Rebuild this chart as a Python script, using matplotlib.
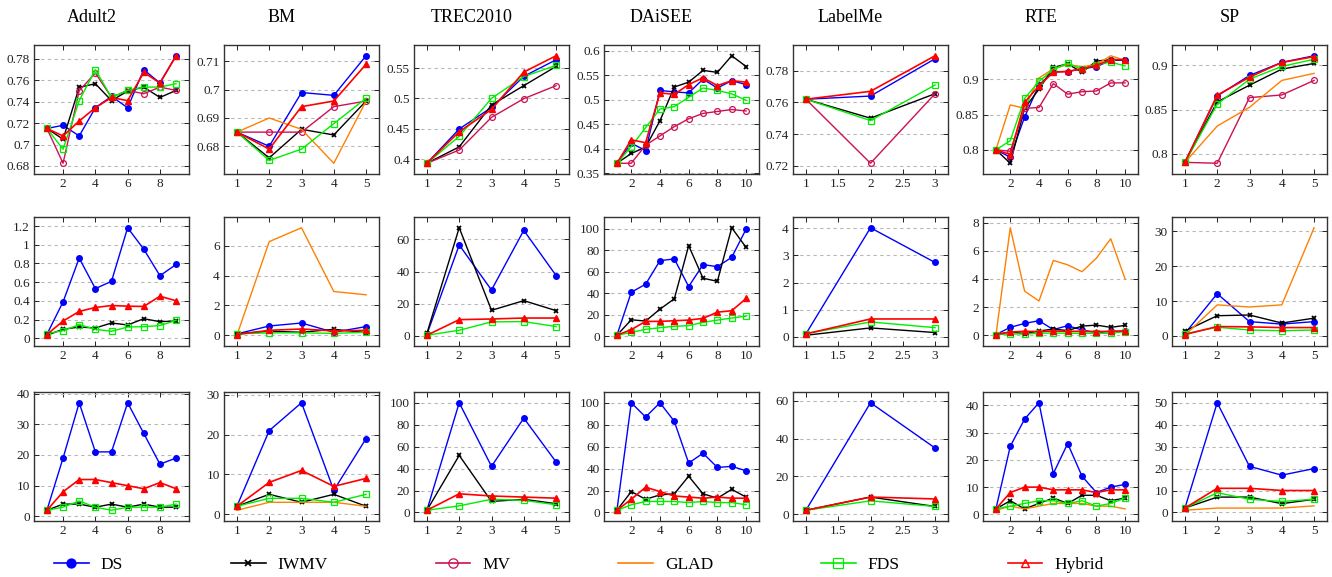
import matplotlib
matplotlib.use("Agg")
import matplotlib.pyplot as plt
from matplotlib.lines import Line2D
from matplotlib.ticker import MultipleLocator, FormatStrFormatter

plt.rcParams['font.family'] = ['Liberation Serif', 'DejaVu Serif']

datasets = ["Adult2", "BM", "TREC2010", "DAiSEE", "LabelMe", "RTE", "SP"]
methods = ["DS", "IWMV", "MV", "GLAD", "FDS", "Hybrid"]

# ---- row 1: accuracy ----
adult2_acc = {
    "DS":     [0.715, 0.718, 0.708, 0.7344, 0.745, 0.7344, 0.770, 0.7575, 0.783],
    "IWMV":   [0.715, 0.705, 0.7534, 0.7569, 0.741, 0.750, 0.7537, 0.744, 0.7506],
    "MV":     [0.715, 0.6825, 0.7503, 0.7669, 0.744, 0.7506, 0.7475, 0.7537, 0.7506],
    "FDS":    [0.715, 0.6956, 0.741, 0.770, 0.744, 0.7506, 0.7537, 0.7537, 0.7569],
    "Hybrid": [0.715, 0.708, 0.722, 0.7344, 0.744, 0.741, 0.7675, 0.7575, 0.783],
}
bm_acc = {
    "DS":     [0.685, 0.680, 0.699, 0.698, 0.712],
    "IWMV":   [0.685, 0.6759, 0.686, 0.684, 0.696],
    "MV":     [0.685, 0.685, 0.685, 0.694, 0.696],
    "GLAD":   [0.685, 0.690, 0.686, 0.674, 0.696],
    "FDS":    [0.685, 0.675, 0.679, 0.688, 0.697],
    "Hybrid": [0.685, 0.679, 0.694, 0.696, 0.709],
}
trec_acc = {
    "DS":     [0.393, 0.4495, 0.485, 0.5363, 0.5637],
    "IWMV":   [0.393, 0.420, 0.489, 0.521, 0.5527],
    "MV":     [0.393, 0.4148, 0.4687, 0.4995, 0.521],
    "FDS":    [0.393, 0.4374, 0.500, 0.536, 0.5544],
    "Hybrid": [0.393, 0.445, 0.4818, 0.5434, 0.5703],
}
daisee_acc = {
    "DS":     [0.37, 0.411, 0.396, 0.519, 0.516, 0.514, 0.542, 0.524, 0.539, 0.531],
    "IWMV":   [0.37, 0.390, 0.403, 0.457, 0.526, 0.536, 0.560, 0.556, 0.590, 0.568],
    "MV":     [0.37, 0.37, 0.407, 0.426, 0.445, 0.461, 0.472, 0.476, 0.480, 0.477],
    "FDS":    [0.37, 0.404, 0.443, 0.481, 0.486, 0.505, 0.524, 0.519, 0.512, 0.499],
    "Hybrid": [0.37, 0.418, 0.412, 0.514, 0.511, 0.531, 0.545, 0.529, 0.539, 0.536],
}
labelme_acc = {
    "DS":     [0.762, 0.764, 0.7876],
    "IWMV":   [0.762, 0.750, 0.7655],
    "MV":     [0.762, 0.7215, 0.7655],
    "FDS":    [0.762, 0.7485, 0.771],
    "Hybrid": [0.762, 0.767, 0.7895],
}
rte_acc = {
    "DS":     [0.80, 0.7896, 0.8467, 0.892, 0.911, 0.911, 0.915, 0.918, 0.927, 0.927],
    "IWMV":   [0.80, 0.781, 0.859, 0.886, 0.917, 0.922, 0.910, 0.926, 0.928, 0.928],
    "MV":     [0.80, 0.798, 0.859, 0.860, 0.894, 0.879, 0.8825, 0.8835, 0.895, 0.895],
    "GLAD":   [0.80, 0.8637, 0.859, 0.902, 0.915, 0.921, 0.918, 0.921, 0.9335, 0.927],
    "FDS":    [0.80, 0.813, 0.873, 0.897, 0.914, 0.923, 0.914, 0.921, 0.9245, 0.919],
    "Hybrid": [0.80, 0.7934, 0.8675, 0.891, 0.910, 0.9113, 0.915, 0.920, 0.928, 0.928],
}
sp_acc = {
    "DS":     [0.79, 0.8654, 0.8886, 0.9034, 0.911],
    "IWMV":   [0.79, 0.8586, 0.8776, 0.8958, 0.9023],
    "MV":     [0.79, 0.789, 0.8635, 0.8665, 0.883],
    "GLAD":   [0.79, 0.8312, 0.8525, 0.883, 0.891],
    "FDS":    [0.79, 0.856, 0.8844, 0.8989, 0.907],
    "Hybrid": [0.79, 0.8662, 0.8867, 0.9034, 0.910],
}

# ---- row 2 ----
adult2_time = {
    "DS":     [0.042, 0.389, 0.857, 0.531, 0.609, 1.182, 0.952, 0.669, 0.789],
    "IWMV":   [0.032, 0.096, 0.12, 0.11, 0.163, 0.142, 0.209, 0.177, 0.184],
    "FDS":    [0.05, 0.081, 0.145, 0.096, 0.074, 0.12, 0.124, 0.135, 0.191],
    "Hybrid": [0.04, 0.184, 0.287, 0.329, 0.35, 0.343, 0.34, 0.45, 0.40],
}
bm_time = {
    "DS":     [0.09, 0.62, 0.82, 0.2, 0.58],
    "IWMV":   [0.1, 0.27, 0.2, 0.4, 0.18],
    "GLAD":   [0.0, 6.27, 7.2, 2.93, 2.71],
    "FDS":    [0.1, 0.16, 0.16, 0.13, 0.2],
    "Hybrid": [0.05, 0.33, 0.42, 0.29, 0.33],
}
trec_time = {
    "DS":     [1.0, 56.5, 28.5, 65.6, 37.5],
    "IWMV":   [1.6, 67.2, 15.9, 21.9, 15.7],
    "FDS":    [0.4, 3.5, 8.7, 8.9, 5.8],
    "Hybrid": [0.4, 10.1, 10.5, 11.1, 11.1],
}
daisee_time = {
    "DS":     [1, 41, 48.5, 70.4, 72, 46.3, 66.7, 64.8, 73.5, 99.7],
    "IWMV":   [1, 15.4, 14.2, 25.3, 34.9, 84.3, 54, 51.2, 101, 82.7],
    "FDS":    [1, 3.7, 6.5, 8, 9.3, 9.9, 13, 15.1, 17, 18.8],
    "Hybrid": [1, 6.2, 13.9, 13.9, 14.5, 15.1, 16.7, 22.5, 23.8, 35.2],
}
labelme_time = {
    "DS":     [0.11, 4.02, 2.74],
    "IWMV":   [0.06, 0.33, 0.16],
    "FDS":    [0.12, 0.55, 0.34],
    "Hybrid": [0.11, 0.66, 0.66],
}
rte_time = {
    "DS":     [0.05, 0.56, 0.84, 1.03, 0.4, 0.68, 0.37, 0.19, 0.28, 0.28],
    "IWMV":   [0.05, 0.23, 0.12, 0.3, 0.44, 0.33, 0.65, 0.72, 0.56, 0.7],
    "GLAD":   [0.0, 7.63, 3.13, 2.43, 5.31, 5.0, 4.51, 5.47, 6.85, 4.0],
    "FDS":    [0.05, 0.09, 0.09, 0.14, 0.16, 0.14, 0.14, 0.14, 0.14, 0.26],
    "Hybrid": [0.05, 0.23, 0.28, 0.26, 0.3, 0.28, 0.28, 0.26, 0.28, 0.3],
}
sp_time = {
    "DS":     [0.7, 12.1, 4.1, 3.4, 4.1],
    "IWMV":   [1.4, 5.8, 6.0, 3.7, 5.1],
    "GLAD":   [0.2, 8.9, 8.3, 8.9, 31.0],
    "FDS":    [0.6, 2.5, 1.7, 1.5, 1.7],
    "Hybrid": [0.4, 2.7, 2.6, 2.4, 2.4],
}

# ---- row 3 ----
adult2_iter = {
    "DS":     [2, 19, 37, 21, 21, 37, 27, 17, 19],
    "IWMV":   [2, 4, 4, 3, 4, 3, 4, 3, 3],
    "FDS":    [2, 3, 5, 3, 2, 3, 3, 3, 4],
    "Hybrid": [2, 8, 12, 12, 11, 10, 9, 11, 9],
}
bm_iter = {
    "DS":     [2, 21, 28, 6, 19],
    "IWMV":   [2, 5, 3, 5, 2],
    "GLAD":   [1, 3, 3, 3, 2],
    "FDS":    [2, 4, 4, 3, 5],
    "Hybrid": [2, 8, 11, 7, 9],
}
trec_iter = {
    "DS":     [2, 100, 42, 86, 46],
    "IWMV":   [2, 52, 10, 12, 8],
    "FDS":    [2, 6, 12, 11, 7],
    "Hybrid": [2, 17, 15, 14, 13],
}
daisee_iter = {
    "DS":     [2, 100, 87, 100, 83, 45, 54, 41, 42, 38],
    "IWMV":   [2, 19, 12, 16, 17, 33, 17, 13, 21, 14],
    "FDS":    [2, 7, 10, 10, 10, 9, 10, 9, 9, 7],
    "Hybrid": [2, 12, 23, 19, 15, 14, 13, 14, 13, 13],
}
labelme_iter = {
    "DS":     [2, 59, 35],
    "IWMV":   [2, 9, 4],
    "FDS":    [2, 7, 4],
    "Hybrid": [2, 9, 8],
}
rte_iter = {
    "DS":     [2, 25, 35, 41, 15, 26, 14, 8, 10, 11],
    "IWMV":   [2, 5, 2, 4, 6, 4, 7, 7, 5, 6],
    "GLAD":   [1.5, 3, 2, 3, 4, 4, 4, 3, 3, 2],
    "FDS":    [2, 3, 4, 5, 5, 4, 5, 3, 4, 6],
    "Hybrid": [2, 8, 10, 10, 9, 9, 9, 8, 9, 9],
}
sp_iter = {
    "DS":     [2, 50, 21, 17, 20],
    "IWMV":   [2, 7, 7, 4, 6],
    "GLAD":   [1, 2, 2, 2, 3],
    "FDS":    [2, 9, 6, 5, 6],
    "Hybrid": [2, 11, 11, 10, 10],
}

rows = [
    [adult2_acc, bm_acc, trec_acc, daisee_acc, labelme_acc, rte_acc, sp_acc],
    [adult2_time, bm_time, trec_time, daisee_time, labelme_time, rte_time, sp_time],
    [adult2_iter, bm_iter, trec_iter, daisee_iter, labelme_iter, rte_iter, sp_iter],
]
ysteps = [
    [0.02, 0.01, 0.05, 0.05, 0.02, 0.05, 0.05],
    [0.2, 2, 20, 20, 1, 2, 10],
    [10, 10, 20, 20, 20, 10, 10],
]
xsteps = [2, 1, 1, 2, 0.5, 2, 1]

styles = {
    "DS":     dict(color='#0000ff', marker='o', ms=4, mfc='#0000ff', mec='#0000ff'),
    "IWMV":   dict(color='black', marker='x', ms=2.6, mew=1.3),
    "MV":     dict(color='#cc1155', marker='o', ms=4.2, mfc='none', mew=0.9),
    "GLAD":   dict(color='#ff8000'),
    "FDS":    dict(color='#00ee00', marker='s', ms=4.2, mfc='none', mew=0.9),
    "Hybrid": dict(color='#ff0000', marker='^', ms=4),
}

W, H = 1332, 577
fig = plt.figure(figsize=(W / 100, H / 100), dpi=100)

lefts = [34, 224, 414, 604, 793, 983, 1172]
axw = 155
tops = [45, 217, 392]
axh = 129

for r, row in enumerate(rows):
    for c, data in enumerate(row):
        ax = fig.add_axes([lefts[c] / W, 1 - (tops[r] + axh) / H, axw / W, axh / H])
        for m in methods:
            if m not in data:
                continue
            ys = data[m]
            xs = list(range(1, len(ys) + 1))
            lw = 1.2 if m == "Hybrid" else 1.0
            ax.plot(xs, ys, lw=lw, zorder=3, **styles[m])
        ax.margins(x=0.1, y=0.1)
        ax.xaxis.set_major_locator(MultipleLocator(xsteps[c]))
        ax.yaxis.set_major_locator(MultipleLocator(ysteps[r][c]))
        ax.xaxis.set_major_formatter(FormatStrFormatter('%g'))
        ax.yaxis.set_major_formatter(FormatStrFormatter('%g'))
        ax.yaxis.grid(True, ls=(0, (3, 3)), color='#b8b8b8', lw=0.8)
        ax.set_axisbelow(True)
        ax.tick_params(direction='in', top=True, right=True, length=3.5,
                       width=0.7, labelsize=9.5, pad=3, colors='#222222')
        for s in ax.spines.values():
            s.set_linewidth(1.0)
            s.set_color('#333333')

for c, name in enumerate(datasets):
    cx = lefts[c] + axw / 2 - 20
    fig.text(cx / W, 1 - 18 / H, name, ha='center', va='center', fontsize=13)

handles = []
for m in methods:
    st = dict(styles[m])
    if m == "Hybrid":
        st['mfc'] = 'none'
    if 'ms' in st:
        st['ms'] = st['ms'] * 1.6
    handles.append(Line2D([], [], lw=1.2, **st))
fig.legend(handles, methods, loc='center left', bbox_to_anchor=(54 / W, 12 / H),
           ncol=6, frameon=False, fontsize=12.5, handlelength=2.0,
           columnspacing=6.2, borderpad=0, borderaxespad=0, handletextpad=0.7)

fig.savefig("out.png", dpi=100)
